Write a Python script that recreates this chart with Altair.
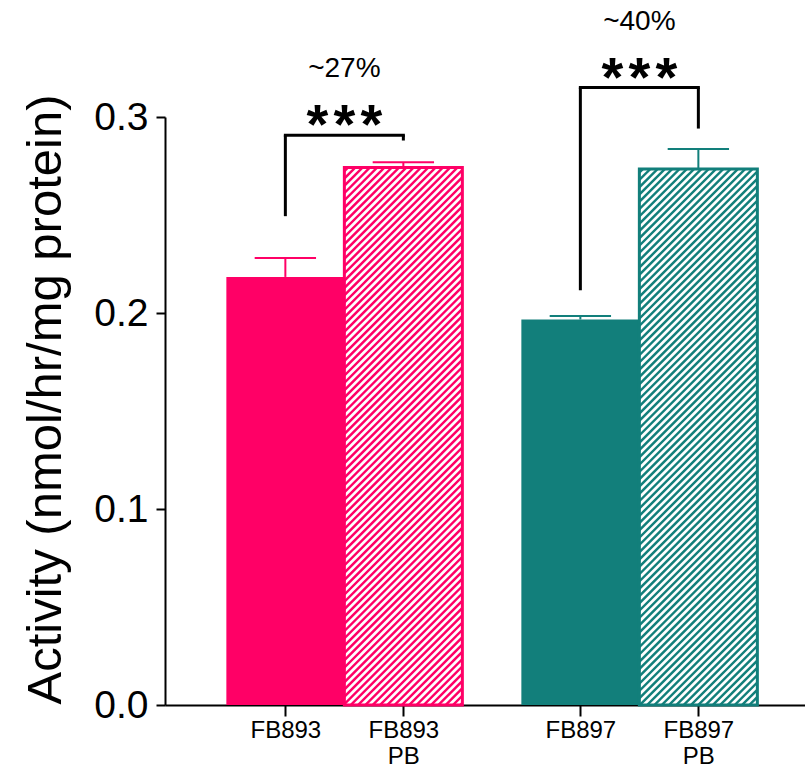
import altair as alt
import pandas as pd

# ---- data -------------------------------------------------------------
strain = ["FB893", "FB893", "FB897", "FB897"]
treatment = ["none", "PB", "none", "PB"]
tick_lines = [["FB893"], ["FB893", "PB"], ["FB897"], ["FB897", "PB"]]
activity = [0.2184, 0.2742, 0.1967, 0.2735]
sem = [0.0097, 0.0027, 0.0018, 0.0102]

# significance brackets: bar indices, leg/top levels, annotations
bracket_from = [0, 2]
bracket_to = [1, 3]
bracket_left_end = [0.2494, 0.2116]
bracket_top = [0.2907, 0.3150]
bracket_right_end = [0.2880, 0.2941]
stars = ["***", "***"]
increase = ["~27%", "~40%"]

palette = {"FB893": "#FF0066", "FB897": "#127F7B"}

# ---- layout -----------------------------------------------------------
PLOT_W, PLOT_H = 640, 588
X_DOMAIN = [-0.02, -0.02 + PLOT_W / 118.0]
Y_DOMAIN = [0.0, 0.3]
GROUP_STEP = 2.5      # distance between the first bars of two strains
BAR_W = 1.0
CAP_HALF = 0.26
HATCH_STEP = 7.3      # horizontal stripe period in pixels
STAR_GAP = 27         # pixel spacing between significance stars
FONT = "Liberation Sans"

groups = list(dict.fromkeys(strain))
pos = [1 + groups.index(s) * GROUP_STEP + (1 if t == "PB" else 0)
       for s, t in zip(strain, treatment)]

bars = pd.DataFrame({
    "strain": strain,
    "treatment": treatment,
    "pos": pos,
    "x0": [p - BAR_W / 2 for p in pos],
    "x1": [p + BAR_W / 2 for p in pos],
    "activity": activity,
    "err_top": [a + e for a, e in zip(activity, sem)],
    "cap0": [p - CAP_HALF for p in pos],
    "cap1": [p + CAP_HALF for p in pos],
})
bars["zero"] = 0.0
hatched = bars[bars["treatment"] == "PB"]

# diagonal stripes, laid out in pixel space and mapped back to data units
px_x = PLOT_W / (X_DOMAIN[1] - X_DOMAIN[0])
px_y = PLOT_H / (Y_DOMAIN[1] - Y_DOMAIN[0])
rows = []
for _, b in hatched.iterrows():
    W = (b["x1"] - b["x0"]) * px_x
    H = b["activity"] * px_y
    k = -H
    while k < W:
        u0, u1 = max(0.0, k), min(W, H + k)
        if u1 > u0:
            rows.append({"x": b["x0"] + u0 / px_x, "y": (u0 - k) / px_y,
                         "x2": b["x0"] + u1 / px_x, "y2": (u1 - k) / px_y})
        k += HATCH_STEP
stripes = pd.DataFrame(rows)

br = pd.DataFrame({
    "xa": [pos[i] for i in bracket_from],
    "xb": [pos[j] for j in bracket_to],
    "ya": bracket_left_end,
    "top": bracket_top,
    "yb": bracket_right_end,
    "stars": stars,
    "increase": increase,
})
br["mid"] = (br["xa"] + br["xb"]) / 2

# ---- scales & axes ----------------------------------------------------
label_expr = " : ".join(
    f"datum.value == {p} ? {lines!r}" for p, lines in zip(pos, tick_lines)
) + " : ''"

x_scale = alt.Scale(domain=X_DOMAIN, nice=False, zero=False)
y_scale = alt.Scale(domain=Y_DOMAIN, nice=False)
color_scale = alt.Scale(domain=list(palette), range=list(palette.values()))

x_axis = alt.Axis(values=pos, labelExpr=label_expr, title=None, grid=False,
                  domainColor="black", domainWidth=2, tickColor="black",
                  tickWidth=2, tickSize=11, labelFont=FONT, labelFontSize=24,
                  labelColor="black", labelPadding=2, labelLineHeight=26,
                  labelFlush=False, labelOverlap=False)
y_axis = alt.Axis(values=[0, 0.1, 0.2, 0.3], format=".1f", grid=False,
                  title="Activity (nmol/hr/mg protein)", titleFont=FONT,
                  titleFontSize=49, titleFontWeight="normal",
                  titleColor="black", titleX=-95, titleY=282,
                  domainColor="black", domainWidth=2, tickColor="black",
                  tickWidth=2, tickSize=9, labelFont=FONT, labelFontSize=39,
                  labelColor="black", labelPadding=8)

X = alt.X("x0:Q", scale=x_scale, axis=x_axis)
Y = alt.Y("activity:Q", scale=y_scale, axis=y_axis)
C = alt.Color("strain:N", scale=color_scale, legend=None)

# ---- marks ------------------------------------------------------------
fill = alt.Chart(bars).mark_rect().encode(
    x=X, x2="x1:Q", y=Y, y2="zero:Q", color=C)

hatch = alt.Chart(stripes).mark_rule(
    color="white", strokeWidth=2.7, strokeCap="butt").encode(
    x=alt.X("x:Q", scale=x_scale), x2="x2:Q",
    y=alt.Y("y:Q", scale=y_scale), y2="y2:Q")

outline = alt.Chart(hatched).mark_rect(fillOpacity=0, strokeWidth=3).encode(
    x=alt.X("x0:Q", scale=x_scale), x2="x1:Q",
    y=alt.Y("activity:Q", scale=y_scale), y2="zero:Q",
    stroke=alt.Stroke("strain:N", scale=color_scale, legend=None))

err_stem = alt.Chart(bars).mark_rule(strokeWidth=2).encode(
    x=alt.X("pos:Q", scale=x_scale),
    y=alt.Y("activity:Q", scale=y_scale), y2="err_top:Q", color=C)

err_cap = alt.Chart(bars).mark_rule(strokeWidth=2).encode(
    x=alt.X("cap0:Q", scale=x_scale), x2="cap1:Q",
    y=alt.Y("err_top:Q", scale=y_scale), color=C)

leg_a = alt.Chart(br).mark_rule(color="black", strokeWidth=3).encode(
    x=alt.X("xa:Q", scale=x_scale),
    y=alt.Y("ya:Q", scale=y_scale), y2="top:Q")
leg_b = alt.Chart(br).mark_rule(color="black", strokeWidth=3).encode(
    x=alt.X("xb:Q", scale=x_scale),
    y=alt.Y("yb:Q", scale=y_scale), y2="top:Q")
bridge = alt.Chart(br).mark_rule(color="black", strokeWidth=3,
                                 strokeCap="square").encode(
    x=alt.X("xa:Q", scale=x_scale), x2="xb:Q",
    y=alt.Y("top:Q", scale=y_scale))

# one text layer per star so that they can be spaced apart
star_layers = []
for i in range(3):
    star_layers.append(
        alt.Chart(br).transform_calculate(
            ch=f"substring(datum.stars, {i}, {i + 1})"
        ).mark_text(
            font=FONT, fontSize=56, fontWeight="bold", color="black",
            baseline="alphabetic", dy=8, dx=(i - 1) * STAR_GAP,
        ).encode(
            x=alt.X("mid:Q", scale=x_scale), y=alt.Y("top:Q", scale=y_scale),
            text="ch:N")
    )

pct_text = alt.Chart(br).mark_text(
    font=FONT, fontSize=28, color="black",
    baseline="alphabetic", dy=-58).encode(
    x=alt.X("mid:Q", scale=x_scale), y=alt.Y("top:Q", scale=y_scale),
    text="increase:N")

chart = alt.layer(
    fill, hatch, outline, err_stem, err_cap,
    leg_a, leg_b, bridge, *star_layers, pct_text,
).properties(
    width=PLOT_W, height=PLOT_H,
    autosize=alt.AutoSizeParams(type="none"),
    padding={"left": 165, "top": 117, "right": 0, "bottom": 63},
    background="white",
).configure_view(stroke=None)

chart.save("out.html", embed_options={"renderer": "svg", "actions": False})
